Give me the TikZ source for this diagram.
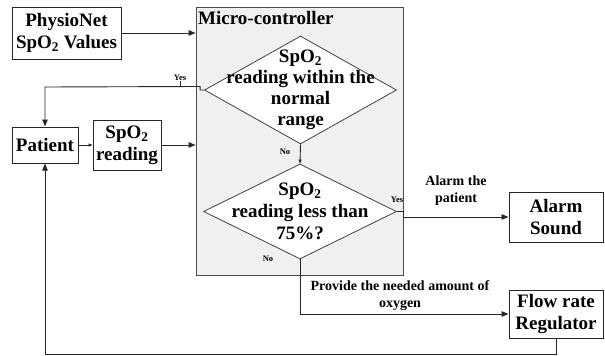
\documentclass[tikz,border=0pt]{standalone}
\usepackage{fontspec}
\setmainfont{Liberation Serif}
\usetikzlibrary{arrows.meta,shapes.geometric,calc}
\begin{document}
\begin{tikzpicture}[x=1pt,y=-1pt,
 boxnode/.style={draw=black!85, line width=1pt, fill=white, align=center, inner sep=0pt, font=\bfseries\fontsize{19}{22}\selectfont},
 dia/.style={diamond, draw=black!75, line width=0.8pt, fill=white, inner sep=0pt},
 dtext/.style={align=center, inner sep=0pt, font=\bfseries\fontsize{19}{21}\selectfont},
 lab/.style={align=center, inner sep=0pt, font=\bfseries\fontsize{14}{17}\selectfont},
 tinylab/.style={inner sep=0pt, font=\bfseries\fontsize{8.5}{9}\selectfont},
 conn/.style={draw=black!85, line width=0.9pt},
 arr/.style={conn, -{Triangle[length=7pt,width=5.5pt]}},
 sarr/.style={conn, -{Triangle[length=4pt,width=3pt]}}]
\useasboundingbox (0,0) rectangle (605,356);
% boxes
\node[boxnode, minimum width=109pt, minimum height=52pt] (physio) at (66.5,33) {PhysioNet\\SpO\textsubscript{2} Values};
\node[draw=black!70, line width=0.8pt, fill=black!6, minimum width=207pt, minimum height=268pt, inner sep=0pt] (mc) at (299.5,141) {};
\node[anchor=base west, inner sep=0pt, font=\bfseries\fontsize{19}{22}\selectfont] (mct) at (198,24) {Micro-controller};
\node[dia, minimum width=192pt, minimum height=108pt] (d1) at (300.5,90) {};
\node[dtext] (d1t) at (300.5,90) {SpO\textsubscript{2}\\reading within the\\normal\\range};
\node[dia, minimum width=193pt, minimum height=95pt] (d2) at (300,211.5) {};
\node[dtext, font=\bfseries\fontsize{19}{22}\selectfont] (d2t) at (300,211) {SpO\textsubscript{2}\\reading less than\\75\%?};
\node[boxnode, minimum width=66pt, minimum height=36pt] (patient) at (45,145) {Patient};
\node[boxnode, minimum width=68pt, minimum height=50pt] (spo2) at (127,145) {SpO\textsubscript{2}\\reading};
\node[boxnode, minimum width=94pt, minimum height=50pt] (alarm) at (556,217) {Alarm\\Sound};
\node[boxnode, minimum width=94pt, minimum height=48pt] (flow) at (556,314) {Flow rate\\Regulator};
% labels
\node[lab] (al) at (456,191) {Alarm the\\patient};
\node[lab] (pl) at (400,296) {Provide the needed amount of\\oxygen};
\node[tinylab] (y1) at (180,78) {Yes};
\node[tinylab] (n1) at (285,152) {No};
\node[tinylab] (y2) at (397,200) {Yes};
\node[tinylab] (n2) at (268,259) {No};
% connectors
\coordinate (yk) at (45,87);
\coordinate (fb) at (556,354);
\draw[arr] (physio.east) -- (physio.east -| mc.west);
\draw[sarr] (patient.east) -- (spo2.west);
\draw[arr] (spo2.east) -- (spo2.east -| mc.west);
\draw[arr] (d1.west) -- ++(-4,0) -- ++(0,-3.5) -- (yk) -- (patient.north);
\draw[conn, line width=0.6pt] (y1.south) -- (y1.south |- yk);
\draw[sarr] (d1.south) -- (d2.north);
\draw[arr] (d2.east) -- ++(7,0) |- (alarm.west);
\draw[arr] (d2.south) |- (flow.west);
\draw[arr] (flow.south) -- (fb) -| (patient.south);
\end{tikzpicture}
\end{document}
